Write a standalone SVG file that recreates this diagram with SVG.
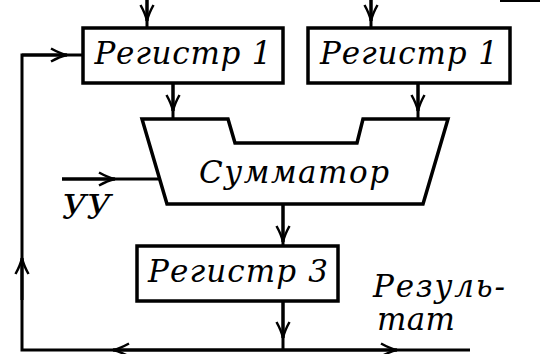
<svg xmlns="http://www.w3.org/2000/svg" width="555" height="354" viewBox="0 0 555 354">
<defs>
<marker id="ah" viewBox="0 0 18 16" refX="17" refY="8" markerWidth="18" markerHeight="16" markerUnits="userSpaceOnUse" orient="auto">
<path d="M1,1.5 Q10,6.5 17,8 Q10,9.5 1,14.5" fill="none" stroke="#000" stroke-width="2.5"/>
</marker>
</defs>
<style>
.ln{fill:none;stroke:#000;stroke-width:3;stroke-linejoin:miter}
.bx{fill:#fff;stroke:#000;stroke-width:3.5}
.t{font-family:"DejaVu Serif","Liberation Serif",serif;font-style:italic;font-size:31px;fill:#000}
</style>
<rect width="555" height="354" fill="#fff"/>
<g id="connectors">
<line class="ln" x1="147" y1="0" x2="147" y2="28"/>
<line class="ln" x1="147" y1="0" x2="147" y2="21" marker-end="url(#ah)"/>
<line class="ln" x1="371" y1="0" x2="371" y2="28"/>
<line class="ln" x1="371" y1="0" x2="371" y2="21" marker-end="url(#ah)"/>
<line class="ln" x1="173" y1="83" x2="173" y2="119"/>
<line class="ln" x1="173" y1="83" x2="173" y2="111" marker-end="url(#ah)"/>
<line class="ln" x1="418" y1="83" x2="418" y2="119"/>
<line class="ln" x1="418" y1="83" x2="418" y2="111" marker-end="url(#ah)"/>
<line class="ln" x1="283" y1="204" x2="283" y2="246"/>
<line class="ln" x1="283" y1="204" x2="283" y2="242" marker-end="url(#ah)"/>
<line class="ln" x1="283" y1="301" x2="283" y2="350"/>
<line class="ln" x1="283" y1="301" x2="283" y2="338" marker-end="url(#ah)"/>
<line class="ln" x1="62" y1="179" x2="160" y2="179"/>
<line class="ln" x1="62" y1="179" x2="115" y2="179" marker-end="url(#ah)"/>
<polyline class="ln" points="83,55 22,55 22,350 470,350"/>
<line class="ln" x1="22" y1="55" x2="67" y2="55" marker-end="url(#ah)"/>
<line class="ln" x1="22" y1="300" x2="22" y2="258" marker-end="url(#ah)"/>
<line class="ln" x1="283" y1="350" x2="113" y2="350" marker-end="url(#ah)"/>
<line class="ln" x1="283" y1="350" x2="397" y2="350" marker-end="url(#ah)"/>
<line class="ln" x1="500" y1="0.5" x2="540" y2="0.5"/>
</g>
<g id="reg1-left">
<rect class="bx" x="83" y="28" width="200" height="55"/>
<text class="t" x="183" y="64" text-anchor="middle" textLength="177">Регистр 1</text>
</g>
<g id="reg1-right">
<rect class="bx" x="308" y="28" width="202" height="55"/>
<text class="t" x="409" y="64" text-anchor="middle" textLength="178">Регистр 1</text>
</g>
<g id="summator">
<path class="bx" d="M142,119 L228,119 L235,143 L357,143 L363,119 L448,119 L423,204 L167,204 Z"/>
<text class="t" x="294" y="183" text-anchor="middle" textLength="190">Сумматор</text>
</g>
<g id="uu">
<text class="t" x="62" y="219" style="font-size:34px">УУ</text>
</g>
<g id="reg3">
<rect class="bx" x="137" y="246" width="201" height="55"/>
<text class="t" x="238" y="282" text-anchor="middle" textLength="180">Регистр 3</text>
</g>
<g id="result">
<text class="t" x="373" y="297" textLength="132">Резуль-</text>
<text class="t" x="377" y="330" textLength="78">тат</text>
</g>
</svg>
